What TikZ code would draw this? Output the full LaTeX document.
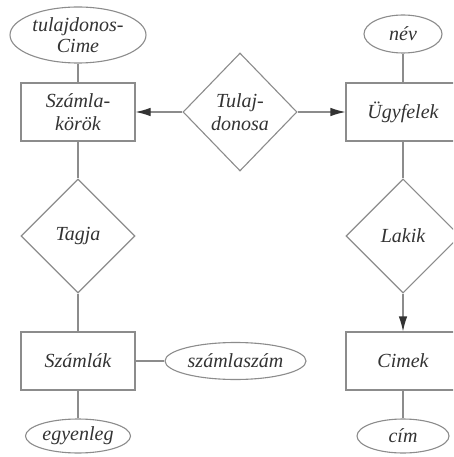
\documentclass[tikz,border=0pt]{standalone}
\usepackage{fontspec}
\setmainfont{Liberation Serif}
\usetikzlibrary{shapes.geometric,arrows.meta}
\definecolor{linegray}{HTML}{8C8C8C}
\definecolor{textgray}{HTML}{333333}
\begin{document}
\begin{tikzpicture}[x=1pt,y=-1pt,
  every node/.style={font=\fontsize{20}{23.5}\selectfont\itshape, text=textgray,
    draw=linegray, line width=1.1pt, inner sep=0pt, align=center},
  entity/.style={rectangle, minimum width=114pt, minimum height=58pt},
  attrib/.style={ellipse, inner sep=-8pt},
  relation/.style={diamond, minimum width=114pt, minimum height=114pt},
  link/.style={draw=linegray, line width=1.1pt},
  arrowlink/.style={link, -{Latex[length=15pt,width=8.5pt]}, arrows={[fill=textgray,color=textgray]}}]
  \clip (0,0) rectangle (453,457);
  \fill[white] (0,0) rectangle (453,457);

  % entities
  \node[entity] (szk) at (78,112) {Számla-\\körök};
  \node[entity] (ugy) at (403,112) {Ügyfelek};
  \node[entity] (szl) at (78,361) {Számlák};
  \node[entity] (cim) at (403,361) {Cimek};

  % relationships
  \node[relation, minimum height=118pt] (tul) at (240,112) {Tulaj-\\donosa};
  \node[relation] (tag) at (78,236) {Tagja};
  \node[relation] (lak) at (403,236) {Lakik};

  % attributes
  \node[attrib, minimum width=136pt, minimum height=56pt,
        font=\fontsize{20}{21}\selectfont\itshape] (tc) at (78,35) {tulajdonos-\\Cime};
  \node[attrib, minimum width=78pt, minimum height=38pt] (nev) at (403,34) {név};
  \node[attrib, minimum width=141pt, minimum height=37pt] (szsz) at (235.5,361) {számlaszám};
  \node[attrib, minimum width=105pt, minimum height=34pt] (egy) at (78,436) {egyenleg};
  \node[attrib, minimum width=92pt, minimum height=34pt] (cm) at (403,436) {cím};

  % connectors
  \draw[link] (tc) -- (szk);
  \draw[link] (szk) -- (tag);
  \draw[link] (tag) -- (szl);
  \draw[link] (szl) -- (szsz);
  \draw[link] (szl) -- (egy);
  \draw[link] (nev) -- (ugy);
  \draw[link] (ugy) -- (lak);
  \draw[link] (cim) -- (cm);
  \draw[arrowlink] (tul) -- (szk);
  \draw[arrowlink] (tul) -- (ugy);
  \draw[arrowlink] (lak) -- (cim);
\end{tikzpicture}
\end{document}
